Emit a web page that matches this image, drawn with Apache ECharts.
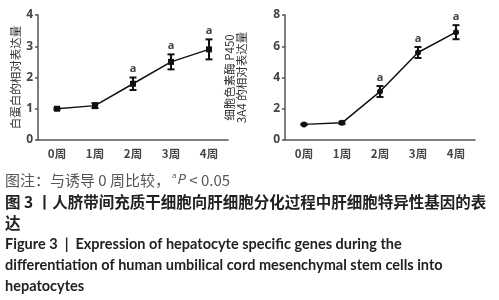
<!DOCTYPE html>
<html>
<head>
<meta charset="utf-8">
<script src="https://cdn.jsdelivr.net/npm/echarts@6/dist/echarts.min.js"></script>
<style>
html, body { margin: 0; padding: 0; background: #fff; }
#chart { width: 499px; height: 300px; }
</style>
</head>
<body>
<div id="chart"></div>
<script>
// 时间点
var weeks = ['0周', '1周', '2周', '3周', '4周'];
// 白蛋白相对表达量：均值 / 误差
var albMean = [1.0, 1.1, 1.8, 2.5, 2.9];
var albErr = [0.03, 0.08, 0.2, 0.24, 0.32];
// 细胞色素酶 P450 3A4 相对表达量：均值 / 误差
var cypMean = [1.0, 1.1, 3.1, 5.6, 6.9];
var cypErr = [0.04, 0.08, 0.35, 0.35, 0.45];
// 与 0 周比较的显著性标记
var sigMark = ['', '', 'a', 'a', 'a'];
// y 轴刻度
var albTicks = [0, 1, 2, 3, 4];
var cypTicks = [0, 2, 4, 6, 8];

var cjk = '"Noto Sans CJK SC", sans-serif';
var axisColor = '#555';

function errData(mean, err) {
    return mean.map(function (m, i) { return [i, m, err[i]]; });
}

// 误差线 + 显著性标记
function errRender(params, api) {
    var i = api.value(0), m = api.value(1), e = api.value(2);
    var top = api.coord([i, m + e]);
    var bot = api.coord([i, m - e]);
    var w = 3.5;
    var st = { stroke: '#111', lineWidth: 2 };
    var children = [
        { type: 'line', shape: { x1: top[0], y1: top[1], x2: bot[0], y2: bot[1] }, style: st },
        { type: 'line', shape: { x1: top[0] - w, y1: top[1], x2: top[0] + w, y2: top[1] }, style: st },
        { type: 'line', shape: { x1: bot[0] - w, y1: bot[1], x2: bot[0] + w, y2: bot[1] }, style: st }
    ];
    var s = sigMark[params.dataIndex];
    if (s) {
        children.push({
            type: 'text', x: top[0], y: top[1] - 3,
            style: { text: s, fill: '#444', font: 'bold 11px "Open Sans", sans-serif', align: 'center', verticalAlign: 'bottom' }
        });
    }
    return { type: 'group', children: children };
}

function xAxis(gi) {
    return {
        type: 'category', gridIndex: gi, data: weeks,
        axisLine: { lineStyle: { color: axisColor, width: 1.5 } },
        axisTick: { alignWithLabel: true, length: 3, lineStyle: { color: axisColor, width: 1.5 } },
        axisLabel: { color: '#444', fontSize: 11.5, fontWeight: 'bold', fontFamily: cjk, margin: 8 }
    };
}

function yAxis(gi, ticks, name, gap) {
    return {
        type: 'value', gridIndex: gi,
        min: ticks[0], max: ticks[ticks.length - 1], interval: ticks[1] - ticks[0],
        name: name, nameLocation: 'middle', nameGap: gap,
        nameTextStyle: { color: '#333', fontSize: 11.5, fontFamily: cjk, lineHeight: 12 },
        axisLine: { show: true, lineStyle: { color: axisColor, width: 1.5 } },
        axisTick: { show: true, length: 3, lineStyle: { color: axisColor, width: 1.5 } },
        axisLabel: { color: '#444', fontSize: 12, fontWeight: 'bold', fontFamily: '"Open Sans", sans-serif', margin: 5 },
        splitLine: { show: false }
    };
}

var chart = echarts.init(document.getElementById('chart'));

var option = {
    animation: false,
    grid: [
        { left: 38, top: 15, width: 190, height: 125 },
        { left: 285, top: 15, width: 190, height: 125 }
    ],
    xAxis: [xAxis(0), xAxis(1)],
    yAxis: [
        yAxis(0, albTicks, '白蛋白的相对表达量', 16),
        yAxis(1, cypTicks, '细胞色素酶 P450\n3A4 的相对表达量', 37)
    ],
    series: [
        {
            type: 'line', xAxisIndex: 0, yAxisIndex: 0, data: albMean,
            symbol: 'rect', symbolSize: 6,
            lineStyle: { color: '#111', width: 1.5 }, itemStyle: { color: '#111' }
        },
        {
            type: 'custom', xAxisIndex: 0, yAxisIndex: 0, data: errData(albMean, albErr),
            renderItem: errRender, z: 3
        },
        {
            type: 'line', xAxisIndex: 1, yAxisIndex: 1, data: cypMean,
            symbol: 'circle', symbolSize: 6,
            lineStyle: { color: '#111', width: 1.5 }, itemStyle: { color: '#111' }
        },
        {
            type: 'custom', xAxisIndex: 1, yAxisIndex: 1, data: errData(cypMean, cypErr),
            renderItem: errRender, z: 3
        }
    ],
    graphic: [
        {
            type: 'text', left: 5, top: 172,
            style: {
                text: '{n|图注：与诱导 0 周比较，}{s|a}{i|P}{n| < 0.05}',
                rich: {
                    n: { fill: '#555', fontSize: 15, fontFamily: cjk },
                    s: { fill: '#555', fontSize: 8, fontFamily: '"Open Sans", sans-serif', verticalAlign: 'top', padding: [0, 1, 8, 2] },
                    i: { fill: '#555', fontSize: 15, fontStyle: 'italic', fontFamily: '"Open Sans", sans-serif' }
                }
            }
        },
        {
            type: 'text', left: 5, top: 194,
            style: { text: '图 3 丨人脐带间充质干细胞向肝细胞分化过程中肝细胞特异性基因的表', fill: '#222', fontSize: 15.5, fontWeight: 'bold', fontFamily: cjk }
        },
        {
            type: 'text', left: 5, top: 215,
            style: { text: '达', fill: '#222', fontSize: 15.5, fontWeight: 'bold', fontFamily: cjk }
        },
        {
            type: 'text', left: 5, top: 237,
            style: { text: 'Figure 3  |  Expression of hepatocyte specific genes during the', fill: '#222', fontSize: 14.5, fontWeight: 'bold', fontFamily: 'Lato, sans-serif' }
        },
        {
            type: 'text', left: 5, top: 258,
            style: { text: 'differentiation of human umbilical cord mesenchymal stem cells into', fill: '#222', fontSize: 14.5, fontWeight: 'bold', fontFamily: 'Lato, sans-serif' }
        },
        {
            type: 'text', left: 5, top: 279,
            style: { text: 'hepatocytes', fill: '#222', fontSize: 14.5, fontWeight: 'bold', fontFamily: 'Lato, sans-serif' }
        }
    ]
};

chart.setOption(option);
</script>
</body>
</html>
